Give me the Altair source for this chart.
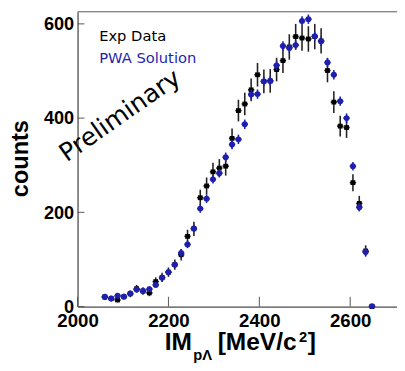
import altair as alt
import pandas as pd

# ---- data ----
mass = [2060, 2074, 2088, 2102, 2116, 2130, 2144, 2158, 2172, 2186, 2200, 2214,
        2228, 2242, 2256, 2270, 2284, 2298, 2312, 2326, 2340, 2354, 2368, 2382,
        2396, 2410, 2424, 2438, 2452, 2466, 2480, 2494, 2508, 2522, 2536, 2550,
        2564, 2578, 2592, 2606, 2620, 2634, 2648]
exp_counts = [20, 17, 14, 21, 27, 38, 33, 29, 53, 62, 73, 89, 110, 149, 165, 231,
              256, 286, 294, 298, 357, 416, 430, 460, 492, 478, 479, 503, 522, 551,
              573, 570, 568, 573, 564, 501, 434, 383, 380, 263, 219, 118, 0]
exp_err = [6, 6, 5, 6, 7, 8, 8, 7, 9, 10, 10, 11, 12, 14, 15, 17, 18, 19, 19, 20,
           21, 23, 24, 24, 25, 25, 25, 25, 26, 27, 27, 27, 27, 27, 27, 25, 23, 22,
           22, 18, 16, 12, 0]
pwa_counts = [21, 17, 23, 21, 28, 36, 33, 37, 46, 61, 73, 89, 114, 132, 166, 208,
              229, 270, 283, 317, 344, 355, 387, 450, 451, 478, 479, 512, 553, 549,
              555, 606, 610, 574, 563, 518, 492, 436, 400, 298, 211, 116, 1]
pwa_err = [5, 5, 5, 5, 5, 6, 6, 6, 6, 7, 7, 7, 8, 8, 8, 9, 9, 9, 9, 10, 10, 10,
           10, 10, 10, 10, 10, 10, 10, 10, 10, 10, 10, 10, 10, 10, 10, 10, 10, 9,
           9, 8, 3]
half_bin = 7
x_ticks = [2000, 2200, 2400, 2600]
y_ticks = [0, 200, 400, 600]

BLUE = "#1f1fae"
W, H = 326, 301

df = pd.DataFrame({
    "x": mass,
    "exp": exp_counts,
    "pwa": pwa_counts,
})
df["x_lo"] = df["x"] - half_bin
df["x_hi"] = df["x"] + half_bin
df["exp_lo"] = [c - e for c, e in zip(exp_counts, exp_err)]
df["exp_hi"] = [c + e for c, e in zip(exp_counts, exp_err)]
df["pwa_lo"] = [c - e for c, e in zip(pwa_counts, pwa_err)]
df["pwa_hi"] = [c + e for c, e in zip(pwa_counts, pwa_err)]

xs = alt.Scale(domain=[2000, 2703], nice=False, zero=False)
ys = alt.Scale(domain=[0, 626], nice=False, zero=False)

xaxis = alt.Axis(values=x_ticks, ticks=False, tickSize=0, labelPadding=5,
                 labelFontSize=19, labelFontWeight="bold", labelFont="Liberation Sans",
                 labelColor="black", labelFlush=False, grid=False, title=None,
                 domainColor="#555", domainWidth=1.3, format="d")
yaxis = alt.Axis(values=y_ticks, ticks=False, tickSize=0, labelPadding=4,
                 labelFontSize=18.5, labelFontWeight="bold", labelFont="Liberation Sans",
                 labelColor="black", labelFlush=False, grid=False, title=None,
                 domainColor="#555", domainWidth=1.3)

base = alt.Chart(df)

exp_v = base.mark_rule(color="#222", strokeWidth=1.6).encode(
    x=alt.X("x:Q", scale=xs, axis=xaxis),
    y=alt.Y("exp_lo:Q", scale=ys, axis=yaxis),
    y2="exp_hi:Q")
exp_h = base.mark_rule(color="#222", strokeWidth=1.6).encode(
    x=alt.X("x_lo:Q", scale=xs), x2="x_hi:Q", y=alt.Y("exp:Q", scale=ys))
exp_p = base.mark_square(color="black", size=24, opacity=1).encode(
    x=alt.X("x:Q", scale=xs), y=alt.Y("exp:Q", scale=ys))

pwa_v = base.mark_rule(color=BLUE, strokeWidth=1.6).encode(
    x=alt.X("x:Q", scale=xs), y=alt.Y("pwa_lo:Q", scale=ys), y2="pwa_hi:Q")
pwa_h = base.mark_rule(color=BLUE, strokeWidth=1.6).encode(
    x=alt.X("x_lo:Q", scale=xs), x2="x_hi:Q", y=alt.Y("pwa:Q", scale=ys))
pwa_p = base.mark_circle(color=BLUE, size=36, opacity=1).encode(
    x=alt.X("x:Q", scale=xs), y=alt.Y("pwa:Q", scale=ys))

# inward ticks and top frame line
ytick_df = pd.DataFrame({"v": y_ticks})
xtick_df = pd.DataFrame({"v": x_ticks})
ytk = alt.Chart(ytick_df).mark_rule(color="#555", strokeWidth=1).encode(
    y=alt.Y("v:Q", scale=ys), x=alt.value(0), x2=alt.value(7))
xtk = alt.Chart(xtick_df).mark_rule(color="#555", strokeWidth=1).encode(
    x=alt.X("v:Q", scale=xs), y=alt.value(H), y2=alt.value(H - 10))
top_line = alt.Chart(pd.DataFrame({"v": [0]})).mark_rule(
    color="#888", strokeWidth=1.5).encode(
    x=alt.value(0), x2=alt.value(W), y=alt.value(0))


def label(txt, x, y, size, color="black", weight="normal", font="DejaVu Sans",
          angle=0, align="left", baseline="alphabetic"):
    return alt.Chart(pd.DataFrame({"t": [txt]})).mark_text(
        fontSize=size, color=color, fontWeight=weight, font=font, angle=angle,
        align=align, baseline=baseline).encode(
        x=alt.value(x), y=alt.value(y), text="t:N")


texts = [
    label("Exp Data", 22, 30, 15),
    label("PWA Solution", 22, 52, 15, color=BLUE),
    label("Preliminary", -11, 154, 25.5, angle=325),
    label("counts", -58, 150, 24, weight="bold", font="Liberation Sans",
          angle=270, align="center", baseline="middle"),
    label("IM", 89, 345, 25, weight="bold", font="Liberation Sans"),
    label("pΛ", 118, 356, 15, weight="bold", font="Liberation Sans"),
    label("[MeV/c", 143, 345, 25, weight="bold", font="Liberation Sans"),
    label("2", 226, 337, 15, weight="bold", font="Liberation Sans"),
    label("]", 235, 345, 25, weight="bold", font="Liberation Sans"),
]

chart = alt.layer(exp_v, exp_h, exp_p, pwa_v, pwa_h, pwa_p, ytk, xtk, top_line,
                  *texts).properties(
    width=W, height=H,
    autosize=alt.AutoSizeParams(type="none"),
    padding={"left": 71, "top": 0, "right": 0, "bottom": 60},
).configure_view(strokeWidth=0).configure(background="white")

chart.save("out.html", embed_options={"renderer": "svg", "actions": False})
